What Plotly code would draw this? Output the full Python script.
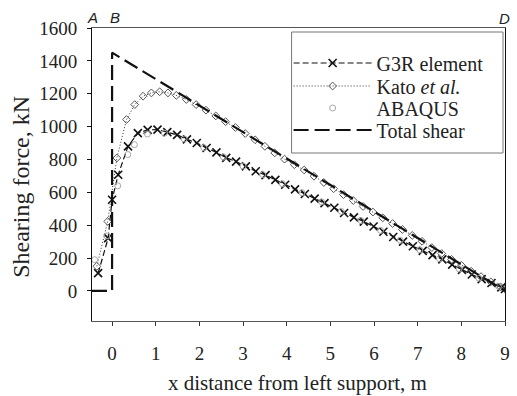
import plotly.graph_objects as go

# ---------------- data ----------------
g3r_x = [-0.32, -0.09, 0.0, 0.14, 0.365, 0.59, 0.815, 1.04, 1.265, 1.49, 1.715, 1.94,
         2.165, 2.39, 2.615, 2.84, 3.065, 3.29, 3.515, 3.74, 3.965, 4.19, 4.415, 4.64,
         4.865, 5.09, 5.315, 5.54, 5.765, 5.99, 6.215, 6.44, 6.665, 6.89, 7.115, 7.34,
         7.565, 7.79, 8.015, 8.24, 8.465, 8.69, 8.915, 9.0]
g3r_y = [108, 321, 555, 707, 880, 960, 980, 982, 966, 950, 922, 900,
         870, 843, 810, 787, 758, 728, 705, 676, 646, 618, 590, 562,
         534, 506, 474, 448, 422, 392, 360, 328, 300, 272, 244, 218,
         192, 160, 128, 100, 72, 48, 22, 12]

kato_x = [-0.35, -0.10, 0.11, 0.33, 0.52, 0.71, 0.90, 1.09, 1.28, 1.47, 1.70, 1.925,
          2.15, 2.375, 2.6, 2.825, 3.05, 3.275, 3.5, 3.725, 3.95, 4.175, 4.4, 4.625,
          4.85, 5.075, 5.3, 5.525, 5.75, 5.975, 6.2, 6.425, 6.65, 6.875, 7.1, 7.325,
          7.55, 7.775, 8.0, 8.225, 8.45, 8.675, 8.9, 9.0]
kato_y = [150, 423, 809, 1043, 1134, 1185, 1205, 1212, 1205, 1190, 1165, 1134,
          1100, 1065, 1030, 995, 958, 920, 880, 840, 802, 768, 736, 698,
          660, 622, 586, 550, 514, 480, 445, 410, 374, 338, 302, 264,
          228, 192, 156, 120, 87, 55, 24, 12]

abaqus_x = [-0.40, -0.12, 0.13, 0.36, 0.51, 0.81, 1.2, 1.65, 2.1, 2.55, 3.0, 3.45,
            3.9, 4.35, 4.8, 5.25, 5.7, 6.15, 6.6, 7.05, 7.5, 7.95, 8.4, 8.85]
abaqus_y = [190, 335, 640, 830, 890, 955, 960, 925, 872, 815, 760, 708,
            652, 598, 542, 484, 428, 368, 308, 250, 196, 134, 78, 28]

total_x = [-0.46, 0.0, 0.0, 9.0]
total_y = [0, 0, 1450, 0]

x_ticks = [0, 1, 2, 3, 4, 5, 6, 7, 8, 9]
y_ticks = [0, 200, 400, 600, 800, 1000, 1200, 1400, 1600]

SERIF = "Liberation Serif"
SANS = "Liberation Sans"
TXT = "#222222"

fig = go.Figure()

fig.add_trace(go.Scatter(
    x=g3r_x, y=g3r_y, name="G3R element", mode="lines+markers", legend="legend",
    line=dict(color="#111111", width=1.2, dash="6px,3px"),
    marker=dict(symbol="x-thin", size=8, color="#111111", line=dict(width=1.6, color="#111111"))))

fig.add_trace(go.Scatter(
    x=kato_x, y=kato_y, name="Kato <i>et al.</i>", mode="lines+markers", legend="legend2",
    line=dict(color="#333333", width=1, dash="1px,2px"),
    marker=dict(symbol="diamond-open", size=6, color="#555555", line=dict(width=1))))

fig.add_trace(go.Scatter(
    x=abaqus_x, y=abaqus_y, name="ABAQUS", mode="markers", legend="legend3",
    marker=dict(symbol="circle-open", size=6, color="#a8a8a8", line=dict(width=1))))

fig.add_trace(go.Scatter(
    x=total_x, y=total_y, name="Total shear", mode="lines", legend="legend4",
    line=dict(color="#111111", width=2.2, dash="15px,6px")))

def px_x(p):
    return (p - 92) / 418.0

def px_y(p):
    return (321 - p) / 293.0

def leg(ypx):
    return dict(x=px_x(291), y=px_y(ypx), xanchor="left", yanchor="middle",
                bgcolor="rgba(0,0,0,0)", borderwidth=0,
                font=dict(family=SERIF, size=20, color=TXT), itemwidth=78)

fig.update_layout(
    width=517, height=396, autosize=False,
    margin=dict(l=92, r=7, t=28, b=75),
    paper_bgcolor="white", plot_bgcolor="white",
    font=dict(family=SERIF, size=19, color=TXT),
    showlegend=True,
    legend=leg(63), legend2=leg(86), legend3=leg(108), legend4=leg(130),
    xaxis=dict(
        range=[-0.46, 9.0], tickvals=x_ticks, ticks="outside", ticklen=4,
        tickcolor="#333333", showline=True, linecolor="#555555", linewidth=1,
        mirror=True, showgrid=False, zeroline=False,
        tickfont=dict(family=SERIF, size=19, color=TXT),
        ticklabelstandoff=11,
    ),
    yaxis=dict(
        range=[-183, 1600], tickvals=y_ticks, ticks="outside", ticklen=4,
        tickcolor="#111111", showline=True, linecolor="#111111", linewidth=1,
        mirror=True, showgrid=False, zeroline=False,
        tickfont=dict(family=SERIF, size=19, color=TXT),
        ticklabelstandoff=6,
    ),
    shapes=[dict(type="rect", xref="paper", yref="paper",
                 x0=px_x(294), x1=px_x(508), y0=px_y(153), y1=px_y(32),
                 line=dict(color="#777777", width=1), fillcolor="white", layer="below")],
    annotations=[
        dict(text="Shearing force, kN", xref="paper", yref="paper",
             x=px_x(20), y=px_y(187), xanchor="center", yanchor="middle",
             textangle=-90, showarrow=False,
             font=dict(family=SERIF, size=24, color=TXT)),
        dict(text="x distance from left support, m", xref="paper", yref="paper",
             x=px_x(300), y=px_y(383), xanchor="center", yanchor="middle",
             showarrow=False, font=dict(family=SERIF, size=21, color=TXT)),
        dict(text="<i>A</i>", xref="paper", yref="paper", x=px_x(92), y=px_y(18),
             xanchor="center", yanchor="middle", showarrow=False,
             font=dict(family=SANS, size=15, color=TXT)),
        dict(text="<i>B</i>", xref="paper", yref="paper", x=px_x(115), y=px_y(18),
             xanchor="center", yanchor="middle", showarrow=False,
             font=dict(family=SANS, size=15, color=TXT)),
        dict(text="<i>D</i>", xref="paper", yref="paper", x=px_x(509), y=px_y(19),
             xanchor="center", yanchor="middle", showarrow=False,
             font=dict(family=SANS, size=15, color=TXT)),
    ],
)

fig.write_html("out.html")
